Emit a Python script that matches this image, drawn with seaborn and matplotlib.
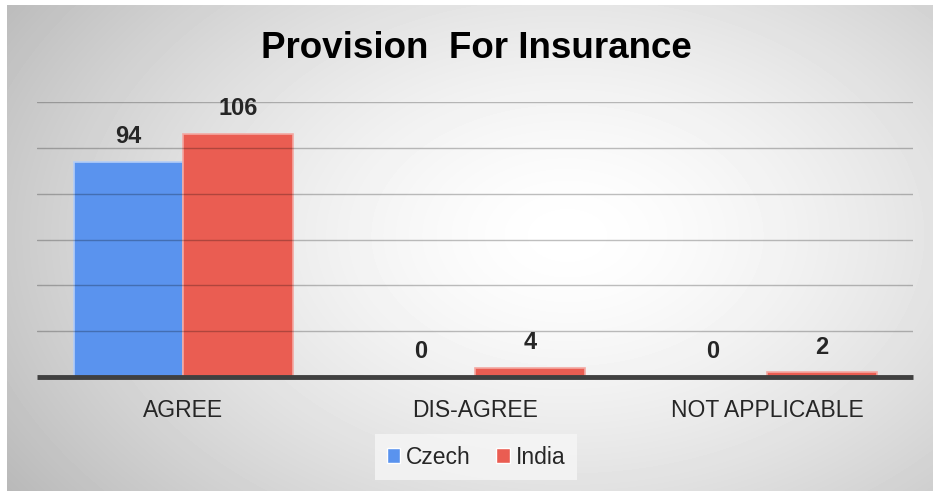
import numpy as np
import pandas as pd
import seaborn as sns
import matplotlib.pyplot as plt

# chart data
categories = ["AGREE", "DIS-AGREE", "NOT APPLICABLE"]
countries = ["Czech", "India"]
czech = [94, 0, 0]
india = [106, 4, 2]
colors = {"Czech": "#5a93ee", "India": "#ea5d52"}
edges = {"Czech": "#b3cdf7", "India": "#f4a8a2"}

df = pd.DataFrame({
    "category": categories * 2,
    "country": ["Czech"] * 3 + ["India"] * 3,
    "value": czech + india,
})

sns.set_style("white")
plt.rcParams["font.family"] = ["Liberation Sans", "DejaVu Sans"]

W, H = 933, 491
fig = plt.figure(figsize=(W / 100, H / 100), dpi=100)

# soft radial background, white in the middle, grey at the edges
bg = fig.add_axes([7 / W, 0, (W - 7) / W, (H - 5) / H])
yy, xx = np.mgrid[0:486, 0:926]
d = np.sqrt(((xx - 560) / 600) ** 2 + ((yy - 230) / 400) ** 2)
shade = 1 - 0.23 * np.clip(d, 0, 1.2) ** 1.5
bg.imshow(shade, cmap="gray", vmin=0, vmax=1, aspect="auto")
bg.axis("off")

ax = fig.add_axes([37 / W, (H - 377) / H, 876 / W, 275 / H])
ax.patch.set_alpha(0)

sns.barplot(data=df, x="category", y="value", hue="country",
            hue_order=countries, palette=colors, width=0.75,
            ax=ax, legend=True, saturation=1)

for cont, name in zip(ax.containers, countries):
    for bar in cont:
        bar.set_edgecolor(edges[name])
        bar.set_linewidth(1.2)
    ax.bar_label(cont, fmt="%d", padding=10, fontsize=17, fontweight="bold")

ax.set_ylim(0, 120)
ax.set_yticks(range(20, 121, 20))
ax.set_yticklabels([])
ax.yaxis.grid(True, color="black", alpha=0.25, lw=1)
ax.set_axisbelow(False)
ax.tick_params(axis="y", length=0)
ax.tick_params(axis="x", length=0, pad=16, labelsize=16.5)
ax.set_xlabel("")
ax.set_ylabel("")
for s in ["top", "left", "right"]:
    ax.spines[s].set_visible(False)
ax.spines["bottom"].set_color("#404040")
ax.spines["bottom"].set_linewidth(3.5)
ax.spines["bottom"].set_capstyle("butt")
ax.spines["bottom"].set_zorder(5)

handles, labels = ax.get_legend_handles_labels()
ax.get_legend().remove()
leg = fig.legend(handles, labels, loc="center", bbox_to_anchor=(476 / W, 1 - 457 / H),
                 ncol=2, frameon=True, fontsize=16.5, handlelength=0.6, handleheight=0.6,
                 handletextpad=0.25, columnspacing=1.1, borderpad=0.5, fancybox=False)
leg.get_frame().set_facecolor("#f6f6f6")
leg.get_frame().set_edgecolor("none")

fig.text(476 / W, 1 - 49 / H, "Provision  For Insurance", ha="center", va="center",
         fontsize=26.5, fontweight="bold", color="black")

fig.savefig("out.png", dpi=100)
